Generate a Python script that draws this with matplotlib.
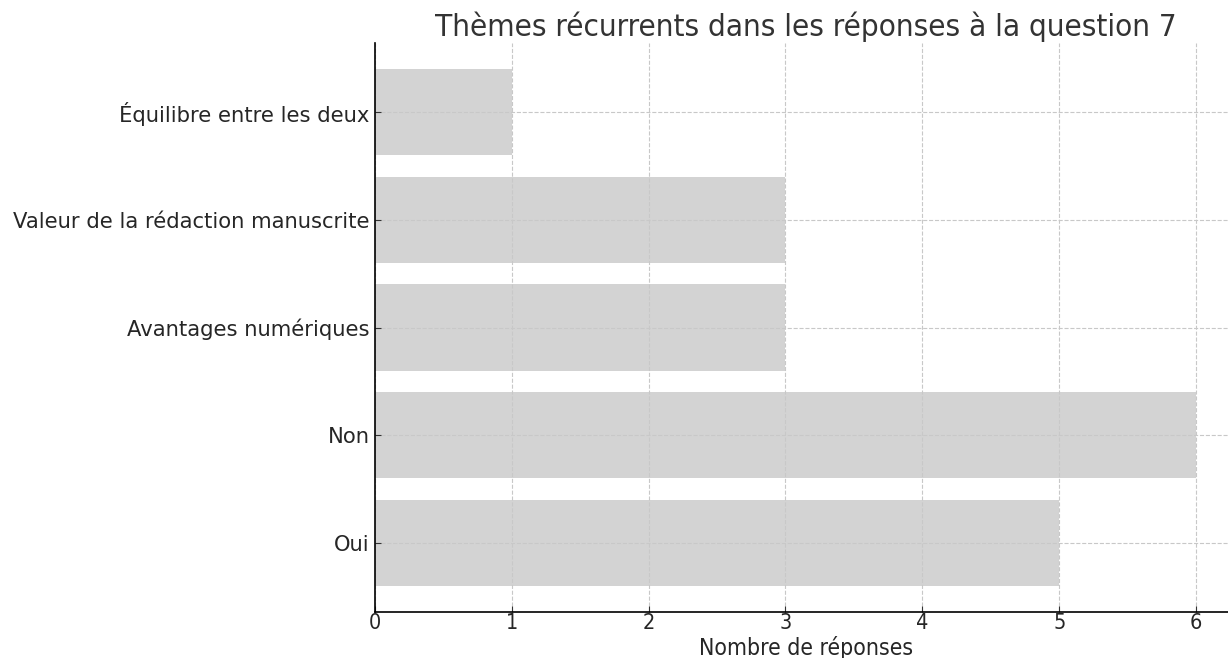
import matplotlib.pyplot as plt
import numpy as np

# donnees
themes = ["Oui", "Non", "Avantages numériques",
          "Valeur de la rédaction manuscrite", "Équilibre entre les deux"]
nombres = [5, 6, 3, 3, 1]

fig = plt.figure(figsize=(12.28, 6.58), dpi=100)
ax = fig.add_axes([375/1228, 1 - 612/658, 862/1228, (612 - 43)/658])

ax.barh(themes, nombres, color="#d3d3d3", height=0.8)
ax.set_axisbelow(False)
ax.grid(True, linestyle="--", color="#c8c8c8", linewidth=0.8)

ax.spines["right"].set_visible(False)
ax.spines["top"].set_visible(False)
for s in ["left", "bottom"]:
    ax.spines[s].set_linewidth(1.2)
    ax.spines[s].set_zorder(5)
ax.tick_params(direction="in", length=4, color="#333333")
ax.tick_params(axis="y", labelsize=15.2, labelcolor="#262626", pad=4)
ax.tick_params(axis="x", labelsize=15.5, labelcolor="#262626", pad=1)
for lab in ax.get_xticklabels():
    lab.set_fontstretch("condensed")

ax.set_xlabel("Nombre de réponses", fontsize=16.5, color="#262626",
              fontstretch="condensed", labelpad=2)
ax.set_title("Thèmes récurrents dans les réponses à la question 7",
             fontsize=22.5, color="#333333", fontstretch="condensed", pad=5)

fig.savefig("out.png", dpi=100)
